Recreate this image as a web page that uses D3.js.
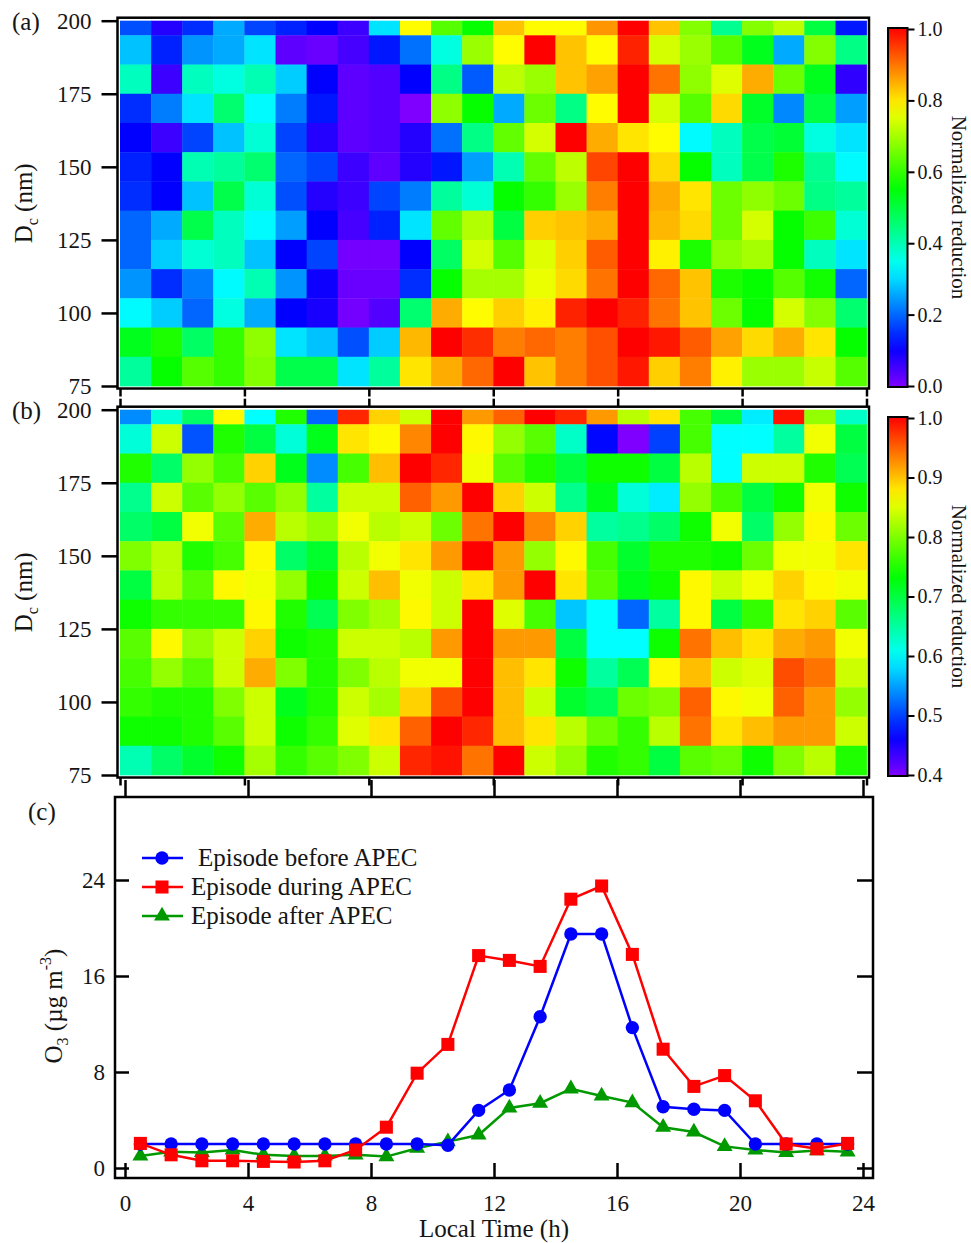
<!DOCTYPE html>
<html>
<head>
<meta charset="utf-8">
<script src="https://cdn.jsdelivr.net/npm/d3@7"></script>
<style>
  body { margin: 0; background: #fff; }
  svg { display: block; font-family: "Liberation Serif", "Times New Roman", serif; }
</style>
</head>
<body>
<div id="chart"></div>
<script>
// Hour columns of the heatmaps (start of each 1 h bin)
const hours = [0, 1, 2, 3, 4, 5, 6, 7, 8, 9, 10, 11, 12, 13, 14, 15, 16, 17, 18, 19, 20, 21, 22, 23];
// Size bins (centre, nm), top row first
const sizeBins = [200, 190, 180, 170, 160, 150, 140, 130, 120, 110, 100, 90, 80];

// (a) normalized reduction, rows follow sizeBins
const reductionA = [
  [0.18, 0.08, 0.15, 0.26, 0.17, 0.14, 0.11, 0.06, 0.31, 0.78, 0.63, 0.56, 0.83, 0.78, 0.78, 0.87, 1.00, 0.83, 0.67, 0.43, 0.67, 0.72, 0.50, 0.13],
  [0.28, 0.14, 0.24, 0.26, 0.31, 0.03, 0.02, 0.05, 0.13, 0.21, 0.36, 0.69, 0.78, 1.00, 0.83, 0.78, 0.97, 0.74, 0.69, 0.63, 0.53, 0.26, 0.67, 0.44],
  [0.39, 0.06, 0.39, 0.36, 0.40, 0.29, 0.11, 0.03, 0.04, 0.11, 0.44, 0.19, 0.72, 0.69, 0.83, 0.86, 1.00, 0.90, 0.68, 0.75, 0.85, 0.65, 0.53, 0.07],
  [0.15, 0.22, 0.31, 0.46, 0.33, 0.22, 0.13, 0.03, 0.04, 0.00, 0.68, 0.56, 0.26, 0.65, 0.44, 0.78, 1.00, 0.74, 0.63, 0.81, 0.52, 0.23, 0.50, 0.25],
  [0.11, 0.06, 0.17, 0.28, 0.37, 0.17, 0.08, 0.03, 0.04, 0.08, 0.21, 0.44, 0.64, 0.74, 1.00, 0.85, 0.80, 0.78, 0.33, 0.39, 0.49, 0.51, 0.36, 0.31],
  [0.14, 0.11, 0.40, 0.42, 0.46, 0.20, 0.17, 0.06, 0.03, 0.08, 0.13, 0.25, 0.40, 0.64, 0.72, 0.94, 1.00, 0.81, 0.56, 0.39, 0.49, 0.58, 0.43, 0.33],
  [0.15, 0.11, 0.28, 0.49, 0.37, 0.18, 0.08, 0.06, 0.17, 0.22, 0.42, 0.37, 0.56, 0.60, 0.69, 0.89, 1.00, 0.85, 0.80, 0.65, 0.68, 0.65, 0.44, 0.42],
  [0.20, 0.26, 0.49, 0.39, 0.33, 0.25, 0.11, 0.05, 0.14, 0.31, 0.64, 0.71, 0.50, 0.82, 0.83, 0.85, 1.00, 0.84, 0.81, 0.65, 0.74, 0.56, 0.61, 0.37],
  [0.20, 0.29, 0.37, 0.39, 0.28, 0.11, 0.17, 0.01, 0.01, 0.11, 0.47, 0.74, 0.63, 0.75, 0.82, 0.92, 1.00, 0.79, 0.58, 0.68, 0.70, 0.56, 0.39, 0.31],
  [0.24, 0.15, 0.22, 0.33, 0.40, 0.24, 0.10, 0.02, 0.02, 0.15, 0.56, 0.70, 0.70, 0.76, 0.81, 0.90, 1.00, 0.91, 0.83, 0.58, 0.56, 0.63, 0.57, 0.20],
  [0.33, 0.29, 0.20, 0.36, 0.26, 0.11, 0.09, 0.01, 0.04, 0.46, 0.85, 0.78, 0.82, 0.79, 0.97, 1.00, 0.97, 0.90, 0.83, 0.65, 0.56, 0.74, 0.67, 0.46],
  [0.53, 0.58, 0.47, 0.60, 0.68, 0.31, 0.28, 0.18, 0.29, 0.84, 1.00, 0.96, 0.89, 0.91, 0.89, 0.93, 1.00, 0.98, 0.92, 0.86, 0.81, 0.85, 0.80, 0.56],
  [0.42, 0.56, 0.63, 0.60, 0.67, 0.49, 0.49, 0.31, 0.42, 0.80, 0.85, 0.91, 1.00, 0.83, 0.89, 0.93, 0.98, 0.82, 0.89, 0.79, 0.69, 0.69, 0.73, 0.63]
];

// (b) normalized reduction, rows follow sizeBins
const reductionB = [
  [0.54, 0.62, 0.68, 0.87, 0.60, 0.75, 0.52, 0.98, 0.89, 0.84, 1.00, 0.92, 0.95, 1.00, 0.98, 0.92, 0.83, 0.88, 0.77, 0.70, 0.59, 0.99, 0.81, 0.63],
  [0.62, 0.84, 0.51, 0.75, 0.70, 0.62, 0.72, 0.88, 0.87, 0.93, 1.00, 0.87, 0.81, 0.78, 0.63, 0.47, 0.40, 0.50, 0.77, 0.60, 0.60, 0.65, 0.86, 0.70],
  [0.75, 0.68, 0.81, 0.77, 0.89, 0.72, 0.54, 0.77, 0.90, 1.00, 0.98, 0.86, 0.78, 0.75, 0.70, 0.74, 0.74, 0.70, 0.83, 0.60, 0.84, 0.84, 0.75, 0.69],
  [0.66, 0.84, 0.78, 0.81, 0.78, 0.81, 0.65, 0.84, 0.84, 0.95, 0.92, 1.00, 0.89, 0.84, 0.66, 0.72, 0.62, 0.59, 0.81, 0.77, 0.70, 0.74, 0.86, 0.74],
  [0.68, 0.70, 0.86, 0.78, 0.91, 0.83, 0.81, 0.86, 0.83, 0.84, 0.79, 0.94, 1.00, 0.93, 0.89, 0.65, 0.66, 0.68, 0.74, 0.86, 0.68, 0.81, 0.87, 0.79],
  [0.80, 0.83, 0.75, 0.77, 0.87, 0.68, 0.71, 0.83, 0.86, 0.88, 0.92, 1.00, 0.92, 0.81, 0.87, 0.77, 0.71, 0.75, 0.75, 0.74, 0.79, 0.86, 0.86, 0.88],
  [0.70, 0.83, 0.78, 0.87, 0.86, 0.81, 0.74, 0.84, 0.90, 0.86, 0.84, 0.88, 0.92, 1.00, 0.88, 0.78, 0.72, 0.74, 0.87, 0.84, 0.86, 0.89, 0.87, 0.86],
  [0.74, 0.76, 0.76, 0.76, 0.87, 0.75, 0.69, 0.80, 0.82, 0.87, 0.84, 1.00, 0.85, 0.77, 0.57, 0.60, 0.52, 0.65, 0.87, 0.70, 0.76, 0.88, 0.89, 0.78],
  [0.78, 0.87, 0.81, 0.84, 0.89, 0.74, 0.75, 0.84, 0.84, 0.83, 0.92, 1.00, 0.92, 0.92, 0.70, 0.60, 0.60, 0.74, 0.94, 0.90, 0.88, 0.91, 0.92, 0.86],
  [0.77, 0.81, 0.78, 0.84, 0.91, 0.80, 0.75, 0.80, 0.83, 0.86, 0.86, 1.00, 0.90, 0.88, 0.74, 0.65, 0.69, 0.87, 0.90, 0.84, 0.85, 0.96, 0.94, 0.84],
  [0.76, 0.75, 0.75, 0.80, 0.84, 0.72, 0.75, 0.84, 0.82, 0.89, 0.96, 1.00, 0.90, 0.84, 0.71, 0.69, 0.79, 0.80, 0.95, 0.87, 0.86, 0.95, 0.92, 0.81],
  [0.74, 0.74, 0.75, 0.78, 0.84, 0.74, 0.76, 0.85, 0.88, 0.95, 1.00, 0.98, 0.90, 0.88, 0.83, 0.79, 0.76, 0.83, 0.94, 0.88, 0.90, 0.92, 0.92, 0.84],
  [0.64, 0.68, 0.71, 0.74, 0.82, 0.76, 0.78, 0.80, 0.84, 0.98, 0.99, 0.94, 1.00, 0.84, 0.81, 0.75, 0.76, 0.70, 0.78, 0.79, 0.74, 0.80, 0.83, 0.75]
];

// (c) O3 concentrations (ug m-3) at mid-hour
const localTime = [0.5, 1.5, 2.5, 3.5, 4.5, 5.5, 6.5, 7.5, 8.5, 9.5, 10.5, 11.5, 12.5, 13.5, 14.5, 15.5, 16.5, 17.5, 18.5, 19.5, 20.5, 21.5, 22.5, 23.5];
const o3Before = [2.0, 2.0, 2.0, 2.0, 2.0, 2.0, 2.0, 2.0, 2.0, 2.0, 1.9, 4.8, 6.5, 12.6, 19.5, 19.5, 11.7, 5.1, 4.9, 4.8, 2.0, 2.0, 2.0, 2.0];
const o3During = [2.05, 1.1, 0.6, 0.6, 0.55, 0.5, 0.6, 1.5, 3.4, 7.9, 10.3, 17.7, 17.3, 16.8, 22.4, 23.5, 17.8, 9.9, 6.8, 7.7, 5.6, 2.0, 1.6, 2.05];
const o3After = [1.0, 1.35, 1.3, 1.5, 1.1, 1.0, 1.0, 1.1, 0.95, 1.65, 2.2, 2.75, 5.0, 5.4, 6.6, 6.0, 5.45, 3.4, 3.0, 1.8, 1.5, 1.3, 1.45, 1.35];

const seriesNames = ["Episode before APEC", "Episode during APEC", "Episode after APEC"];
const heatTicks = [75, 100, 125, 150, 175, 200];
const timeTicks = [0, 4, 8, 12, 16, 20, 24];
const o3Ticks = [0, 8, 16, 24];
const barTicksA = [0, 0.2, 0.4, 0.6, 0.8, 1.0];
const barTicksB = [0.4, 0.5, 0.6, 0.7, 0.8, 0.9, 1.0];

const W = 971, H = 1243;
const ink = "#151515";

const svg = d3.select("#chart").append("svg")
    .attr("width", W)
    .attr("height", H);

// rainbow: violet at low end, red at high end
function rainbow(lo, hi) {
    const hue = d3.scaleLinear().domain([lo, hi]).range([270, 0]).clamp(true);
    return v => d3.hsl(hue(v), 1, 0.5).formatHex();
}

function styleAxis(g, size) {
    g.attr("font-family", null).attr("font-size", size);
    g.select(".domain").remove();
    g.selectAll(".tick line").attr("stroke", "#000").attr("stroke-width", 2.5);
    g.selectAll(".tick text").attr("fill", ink);
}

function drawHeatmap(opt) {
    const x = d3.scaleLinear().domain([0, 24]).range([120, 866.5]);
    const y = d3.scaleLinear().domain([75, 200]).range([opt.bottom, opt.top]);
    const color = rainbow(opt.lo, opt.hi);

    const cells = [];
    opt.data.forEach((row, i) => row.forEach((v, j) => cells.push({size: sizeBins[i], hour: hours[j], v: v})));

    svg.append("g").selectAll("rect")
        .data(cells)
        .join("rect")
        .attr("x", d => x(d.hour))
        .attr("width", d => x(d.hour + 1) - x(d.hour) + 0.4)
        .attr("y", d => y(Math.min(d.size + 5, 200)))
        .attr("height", d => y(d.size - 5) - y(Math.min(d.size + 5, 200)) + 0.4)
        .attr("fill", d => color(d.v));

    // frame
    svg.append("rect")
        .attr("x", 117.5).attr("y", opt.top - 3)
        .attr("width", 751.5).attr("height", opt.bottom - opt.top + 5.5)
        .attr("fill", "none").attr("stroke", "#000").attr("stroke-width", 2.5);

    svg.append("g")
        .attr("transform", "translate(117.5,0)")
        .call(d3.axisLeft(y).tickValues(heatTicks).tickSize(16).tickPadding(10))
        .call(g => styleAxis(g, 23));

    svg.append("g")
        .attr("transform", `translate(0,${opt.bottom + 2.5})`)
        .call(d3.axisBottom(x).tickValues(timeTicks).tickSize(8).tickFormat(""))
        .call(g => styleAxis(g, 23));

    if (opt.topTicks) {
        svg.append("g")
            .attr("transform", `translate(0,${opt.top - 3})`)
            .call(d3.axisTop(x).tickValues(timeTicks).tickSize(8).tickFormat(""))
            .call(g => styleAxis(g, 23));
    }

    // y title
    const mid = (opt.top + opt.bottom) / 2;
    const t = svg.append("text")
        .attr("transform", `translate(32,${mid}) rotate(-90)`)
        .attr("text-anchor", "middle")
        .attr("font-size", 25)
        .attr("fill", ink);
    t.append("tspan").text("D");
    t.append("tspan").attr("dy", 6).attr("font-size", 16).text("c");
    t.append("tspan").attr("dy", -6).text(" (nm)");

    svg.append("text")
        .attr("x", 12).attr("y", opt.top + 9)
        .attr("font-size", 25).attr("fill", ink)
        .text(opt.label);

    // colour bar
    const barTop = opt.bottom - 358, barBottom = opt.bottom + 1;
    const gradId = "grad" + opt.label.replace(/\W/g, "");
    const grad = svg.append("defs").append("linearGradient")
        .attr("id", gradId)
        .attr("x1", 0).attr("y1", 1).attr("x2", 0).attr("y2", 0);
    d3.range(0, 1.0001, 0.05).forEach(f => {
        grad.append("stop")
            .attr("offset", f)
            .attr("stop-color", color(opt.lo + f * (opt.hi - opt.lo)));
    });
    svg.append("rect")
        .attr("x", 888).attr("y", barTop)
        .attr("width", 19.5).attr("height", barBottom - barTop)
        .attr("fill", `url(#${gradId})`)
        .attr("stroke", "#000").attr("stroke-width", 2);

    const bar = d3.scaleLinear().domain([opt.lo, opt.hi]).range([barBottom - 1, barTop + 1]);
    svg.append("g")
        .attr("transform", "translate(907.5,0)")
        .call(d3.axisRight(bar).tickValues(opt.barTicks).tickSize(7).tickPadding(3).tickFormat(d3.format(".1f")))
        .call(g => styleAxis(g, 20))
        .call(g => g.selectAll(".tick line").attr("stroke-width", 2));

    svg.append("text")
        .attr("transform", `translate(952,${(barTop + barBottom) / 2}) rotate(90)`)
        .attr("text-anchor", "middle")
        .attr("font-size", 21)
        .attr("fill", ink)
        .text("Normalized reduction");
}

drawHeatmap({label: "(a)", data: reductionA, top: 20.7, bottom: 386, lo: 0, hi: 1, barTicks: barTicksA, topTicks: false});
drawHeatmap({label: "(b)", data: reductionB, top: 409.7, bottom: 775, lo: 0.4, hi: 1, barTicks: barTicksB, topTicks: true});

// ---- panel (c) ----
const frameC = {left: 115, right: 873, top: 797, bottom: 1178};
const xC = d3.scaleLinear().domain([0, 24]).range([125, 863]);
const yC = d3.scaleLinear().domain([0, 24]).range([1168, 880]);

svg.append("rect")
    .attr("x", frameC.left).attr("y", frameC.top)
    .attr("width", frameC.right - frameC.left).attr("height", frameC.bottom - frameC.top)
    .attr("fill", "none").attr("stroke", "#000").attr("stroke-width", 2.5);

svg.append("g")
    .attr("transform", `translate(0,${frameC.bottom})`)
    .call(d3.axisBottom(xC).tickValues(timeTicks).tickSize(-15).tickPadding(17))
    .call(g => styleAxis(g, 23));

svg.append("g")
    .attr("transform", `translate(0,${frameC.top})`)
    .call(d3.axisTop(xC).tickValues(timeTicks).tickSize(17).tickFormat(""))
    .call(g => styleAxis(g, 23));

svg.append("g")
    .attr("transform", `translate(${frameC.left},0)`)
    .call(d3.axisLeft(yC).tickValues(o3Ticks).tickSize(-14).tickPadding(10))
    .call(g => styleAxis(g, 23));

svg.append("g")
    .attr("transform", `translate(${frameC.right},0)`)
    .call(d3.axisRight(yC).tickValues(o3Ticks).tickSize(-16).tickFormat(""))
    .call(g => styleAxis(g, 23));

const series = [
    {name: seriesNames[0], values: o3Before, color: "#0000ff", symbol: d3.symbolCircle, size: 140},
    {name: seriesNames[1], values: o3During, color: "#ff0000", symbol: d3.symbolSquare, size: 170},
    {name: seriesNames[2], values: o3After, color: "#009900", symbol: d3.symbolTriangle, size: 110}
];

const line = d3.line()
    .x((d, i) => xC(localTime[i]))
    .y(d => yC(d));

// draw after-series first so before/during sit on top like the original
[2, 0, 1].forEach(k => {
    const s = series[k];
    const g = svg.append("g");
    g.append("path")
        .attr("d", line(s.values))
        .attr("fill", "none")
        .attr("stroke", s.color)
        .attr("stroke-width", 2.5);
    g.selectAll("path.pt")
        .data(s.values)
        .join("path")
        .attr("class", "pt")
        .attr("transform", (d, i) => `translate(${xC(localTime[i])},${yC(d)})`)
        .attr("d", d3.symbol(s.symbol, s.size))
        .attr("fill", s.color);
});

// legend
const legendRows = [858, 887, 916];
const legendTextX = [198, 191, 191];
series.forEach((s, i) => {
    const ly = legendRows[i];
    svg.append("line")
        .attr("x1", 142).attr("x2", 183)
        .attr("y1", ly).attr("y2", ly)
        .attr("stroke", s.color).attr("stroke-width", 2.5);
    svg.append("path")
        .attr("transform", `translate(162,${ly})`)
        .attr("d", d3.symbol(s.symbol, s.size))
        .attr("fill", s.color);
    svg.append("text")
        .attr("x", legendTextX[i]).attr("y", ly + 8)
        .attr("font-size", 25).attr("fill", ink)
        .text(s.name);
});

svg.append("text")
    .attr("x", 28).attr("y", 820)
    .attr("font-size", 25).attr("fill", ink)
    .text("(c)");

svg.append("text")
    .attr("x", (xC(0) + xC(24)) / 2).attr("y", 1237)
    .attr("text-anchor", "middle")
    .attr("font-size", 25).attr("fill", ink)
    .text("Local Time (h)");

const oy = svg.append("text")
    .attr("transform", `translate(62,${yC(13.5)}) rotate(-90)`)
    .attr("text-anchor", "middle")
    .attr("font-size", 25)
    .attr("fill", ink);
oy.append("tspan").text("O");
oy.append("tspan").attr("dy", 6).attr("font-size", 16).text("3");
oy.append("tspan").attr("dy", -6).text(" (µg m");
oy.append("tspan").attr("dy", -11).attr("font-size", 16).text("-3");
oy.append("tspan").attr("dy", 11).text(")");
</script>
</body>
</html>
